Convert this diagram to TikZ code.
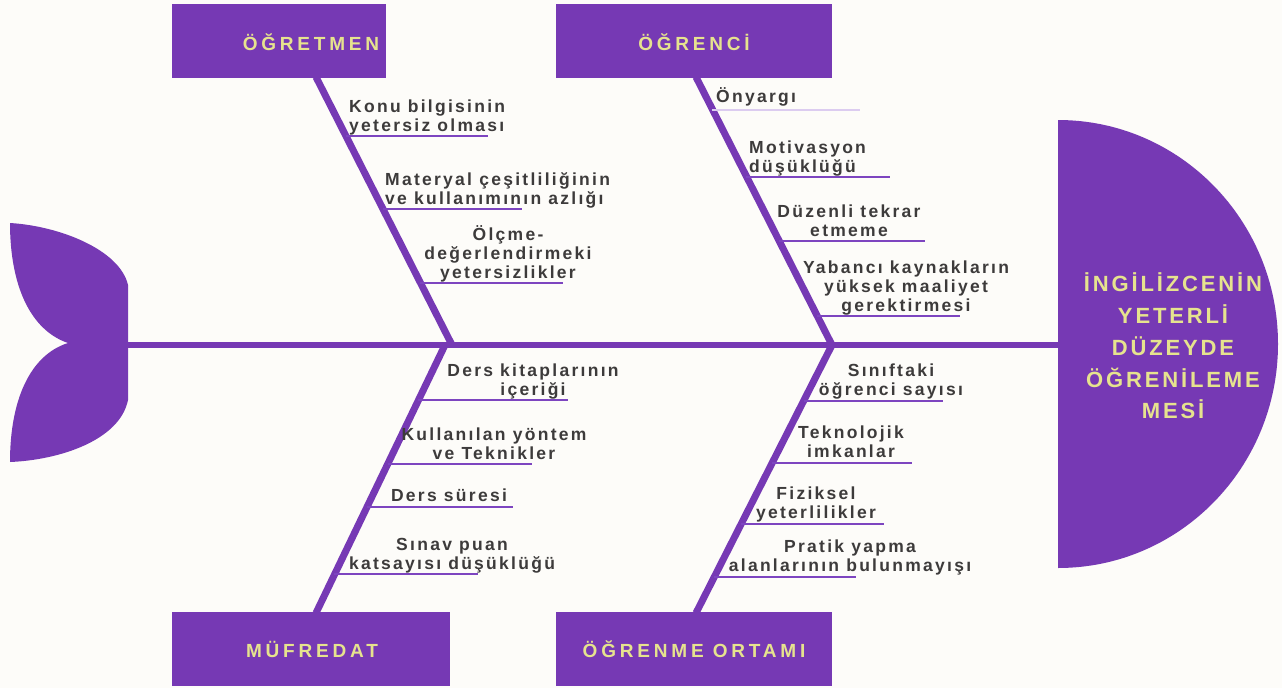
\documentclass[tikz,border=0pt]{standalone}
\usepackage{fontspec}
\setmainfont{Liberation Sans}
\newfontfamily\labfont[LetterSpace=13]{Liberation Sans Bold}
\newfontfamily\boxfont[LetterSpace=20]{Liberation Sans Bold}
\newfontfamily\headfont[LetterSpace=13]{Liberation Sans Bold}
\definecolor{fishpurple}{HTML}{7639B4}
\definecolor{linepurple}{HTML}{7D45C0}
\definecolor{paleline}{HTML}{DCCCF0}
\definecolor{titleyellow}{HTML}{E6E38E}
\definecolor{labeltext}{HTML}{3D3B3B}
\definecolor{bgcol}{HTML}{FDFCF9}
\tikzset{
  catbox/.style={fill=fishpurple, draw=none, minimum height=74pt, inner sep=0pt},
  cattext/.style={inner sep=0pt, text=titleyellow, font=\boxfont\fontsize{19}{22}\selectfont},
  bone/.style={draw=fishpurple, line width=7pt},
  spineline/.style={draw=fishpurple, line width=6pt},
  uline/.style={draw=linepurple, line width=2pt},
  lab/.style={inner sep=0pt, text depth=0pt, anchor=south, text=labeltext,
    font=\labfont\fontsize{17.5}{19}\selectfont},
  headtext/.style={text=titleyellow, align=center, inner sep=0pt,
    font=\headfont\fontsize{22}{31.7}\selectfont}
}
\begin{document}
\begin{tikzpicture}[x=1pt,y=-1pt]
\useasboundingbox (0,0) rectangle (1282,688);
\fill[bgcol] (0,0) rectangle (1282,688);

% category boxes
\node[catbox, minimum width=214pt] (ogretmen) at (279,41) {};
\node[catbox, minimum width=276pt] (ogrenci) at (694,41) {};
\node[catbox, minimum width=278pt] (mufredat) at (311,649) {};
\node[catbox, minimum width=276pt] (ortam) at (694,649) {};
\node[cattext] (ogretmenlab) at (311,42) {ÖĞRETMEN};
\node[cattext] (ogrencilab) at (694,42) {ÖĞRENCİ};
\node[cattext] (mufredatlab) at (312,649) {MÜFREDAT};
\node[cattext] (ortamlab) at (694,649) {ÖĞRENME ORTAMI};

% tail
\fill[fishpurple] (10,223) .. controls (60,226) and (120,250) .. (128,285)
  -- (128,400) .. controls (120,440) and (60,460) .. (10,462)
  .. controls (10,400) and (30,355) .. (68,343)
  .. controls (30,330) and (10,285) .. (10,223) -- cycle;
\coordinate (tail) at (126,345);

% head
\fill[fishpurple] (1058,120) arc[start angle=-90, end angle=90, x radius=220, y radius=224] -- cycle;
\coordinate (headedge) at (1060,345);
\node[headtext] (head) at (1173,346) {İNGİLİZCENİN\\YETERLİ\\DÜZEYDE\\ÖĞRENİLEME\\MESİ};

% spine
\draw[spineline] (tail) -- (headedge);

% bone joints
\coordinate (jtl) at (452,345);
\coordinate (jtr) at (832,345);
\coordinate (jbl) at (445,345);
\coordinate (jbr) at (832,345);
\coordinate (btl) at (316,77);
\coordinate (btr) at (696,77);
\coordinate (bbl) at (316,613);
\coordinate (bbr) at (696,613);
\draw[bone] (btl) -- (jtl);
\draw[bone] (btr) -- (jtr);
\draw[bone] (bbl) -- (jbl);
\draw[bone] (bbr) -- (jbr);

% ÖĞRETMEN causes
\coordinate (a1s) at (345.5,136); \coordinate (a1e) at (488,136);
\coordinate (a2s) at (382.7,209); \coordinate (a2e) at (522,209);
\coordinate (a3s) at (420.4,283); \coordinate (a3e) at (563,283);
\draw[uline] (a1s) -- (a1e);
\draw[uline] (a2s) -- (a2e);
\draw[uline] (a3s) -- (a3e);
\node[lab, anchor=south west, align=left] (a1) at (349,131.5) {Konu bilgisinin\\yetersiz olması};
\node[lab, anchor=south west, align=left] (a2) at (385,204.5) {Materyal çeşitliliğinin\\ve kullanımının azlığı};
\node[lab, align=center] (a3) at (508,278.5) {Ölçme-\\değerlendirmeki\\yetersizlikler};

% ÖĞRENCİ causes
\coordinate (b1s) at (712.3,110); \coordinate (b1e) at (860,110);
\coordinate (b2s) at (746.4,177); \coordinate (b2e) at (890,177);
\coordinate (b3s) at (779,241); \coordinate (b3e) at (925,241);
\coordinate (b4s) at (817.2,316); \coordinate (b4e) at (960,316);
\draw[draw=paleline, line width=2pt] (b1s) -- (b1e);
\draw[uline] (b2s) -- (b2e);
\draw[uline] (b3s) -- (b3e);
\draw[uline] (b4s) -- (b4e);
\node[lab, anchor=south west, align=left] (b1) at (716,102.5) {Önyargı};
\node[lab, anchor=south west, align=left] (b2) at (749,172.5) {Motivasyon\\düşüklüğü};
\node[lab, align=center] (b3) at (849,236.5) {Düzenli tekrar\\etmeme};
\node[lab, align=center] (b4) at (906,311.5) {Yabancı kaynakların\\yüksek maaliyet\\gerektirmesi};

% MÜFREDAT causes
\coordinate (c1s) at (418.4,400); \coordinate (c1e) at (568,400);
\coordinate (c2s) at (387.5,464); \coordinate (c2e) at (532,464);
\coordinate (c3s) at (366.7,507); \coordinate (c3e) at (513,507);
\coordinate (c4s) at (334.4,574); \coordinate (c4e) at (478,574);
\draw[uline] (c1s) -- (c1e);
\draw[uline] (c2s) -- (c2e);
\draw[uline] (c3s) -- (c3e);
\draw[uline] (c4s) -- (c4e);
\node[lab, align=center] (c1) at (533,395.5) {Ders kitaplarının\\içeriği};
\node[lab, align=center] (c2) at (494,459.5) {Kullanılan yöntem\\ve Teknikler};
\node[lab, align=center] (c3) at (449,501.5) {Ders süresi};
\node[lab, align=center] (c4) at (452,569.5) {Sınav puan\\katsayısı düşüklüğü};

% ÖĞRENME ORTAMI causes
\coordinate (d1s) at (803.5,401); \coordinate (d1e) at (943,401);
\coordinate (d2s) at (771.9,463); \coordinate (d2e) at (912,463);
\coordinate (d3s) at (740.8,524); \coordinate (d3e) at (884,524);
\coordinate (d4s) at (713.8,577); \coordinate (d4e) at (856,577);
\draw[uline] (d1s) -- (d1e);
\draw[uline] (d2s) -- (d2e);
\draw[uline] (d3s) -- (d3e);
\draw[uline] (d4s) -- (d4e);
\node[lab, align=center] (d1) at (891,396) {Sınıftaki\\öğrenci sayısı};
\node[lab, align=center] (d2) at (851,458) {Teknolojik\\imkanlar};
\node[lab, align=center] (d3) at (816,519) {Fiziksel\\yeterlilikler};
\node[lab, align=center] (d4) at (850,572) {Pratik yapma\\alanlarının bulunmayışı};
\end{tikzpicture}
\end{document}
